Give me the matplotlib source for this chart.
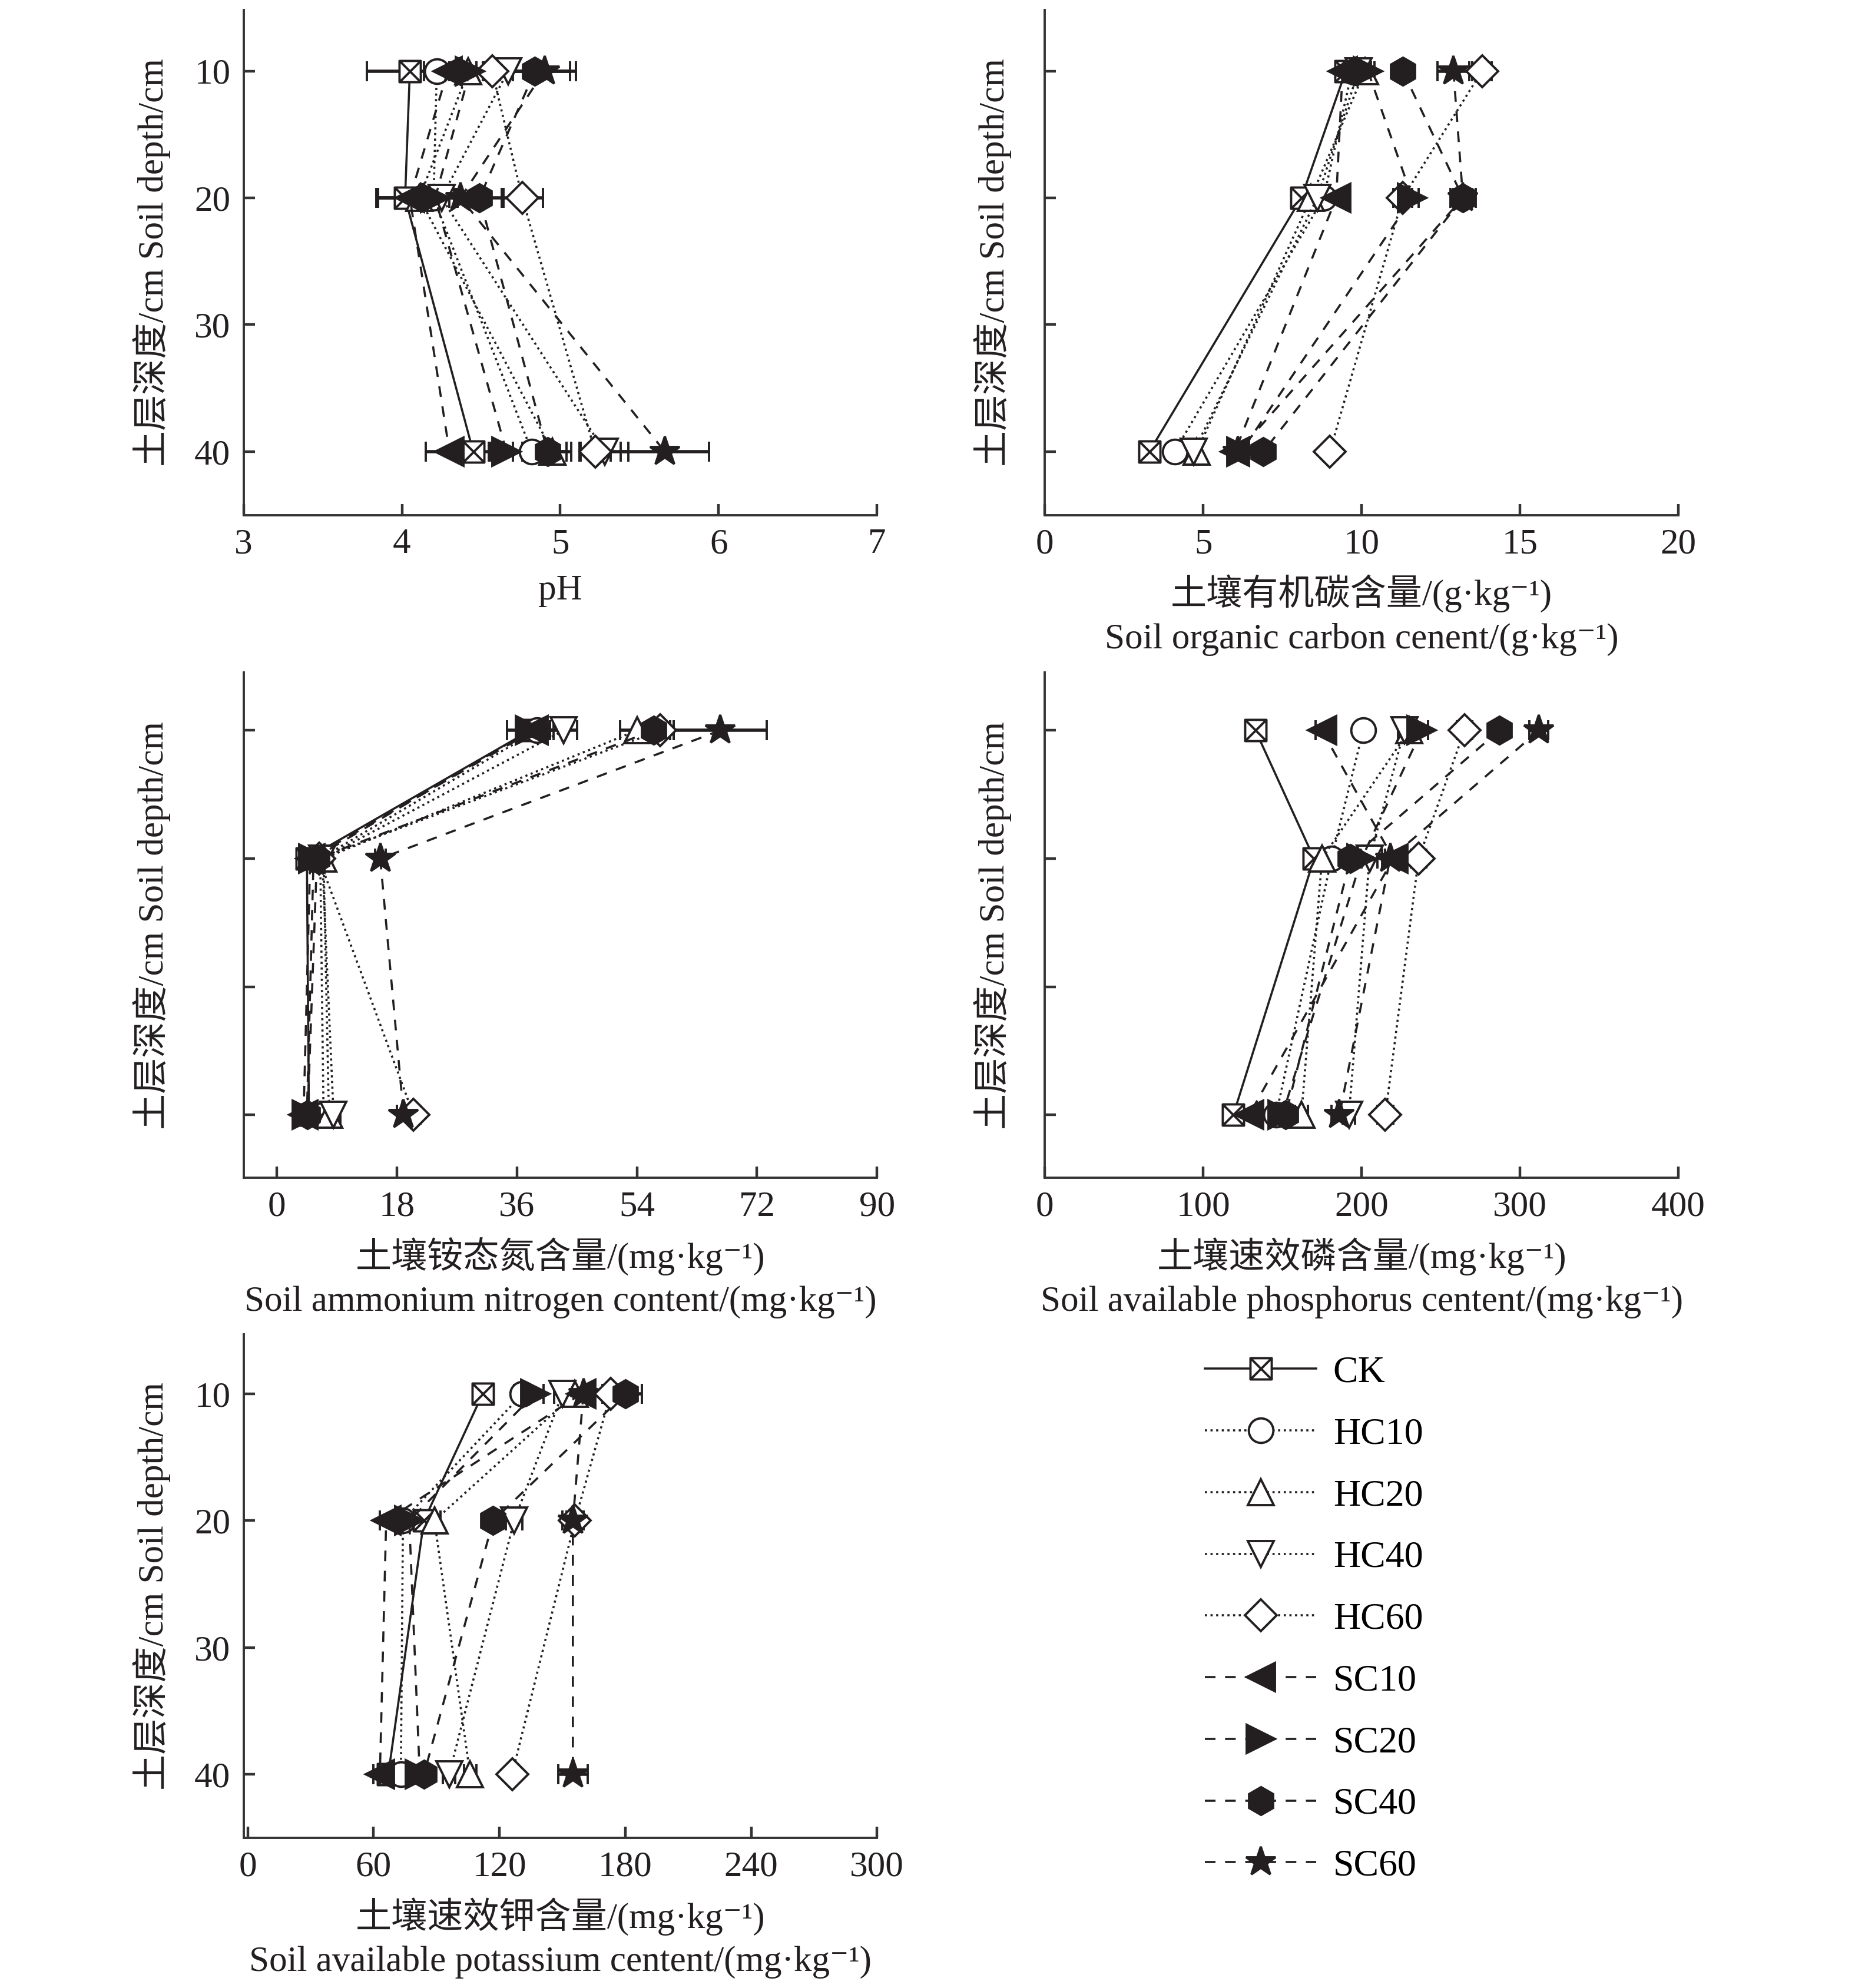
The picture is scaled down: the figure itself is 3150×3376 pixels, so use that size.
import matplotlib
matplotlib.use('Agg')
import matplotlib.pyplot as plt
from matplotlib.path import Path
from matplotlib.lines import Line2D

plt.rcParams['font.family'] = ['Liberation Serif', 'Noto Sans CJK SC', 'DejaVu Serif']

# ---------------- data ----------------
depths = [10, 20, 40]
treatments = ['CK', 'HC10', 'HC20', 'HC40', 'HC60', 'SC10', 'SC20', 'SC40', 'SC60']

# rows follow `treatments`, columns follow `depths`
ph_values = [[4.05, 4.02, 4.45], [4.22, 4.20, 4.82], [4.42, 4.11, 4.95],
             [4.67, 4.25, 5.28], [4.57, 4.76, 5.22], [4.29, 4.05, 4.30],
             [4.43, 4.21, 4.66], [4.84, 4.49, 4.92], [4.90, 4.37, 5.66]]
ph_errors = [[0.27, 0.18, 0.10], [0.08, 0.10, 0.12], [0.10, 0.12, 0.12],
             [0.12, 0.10, 0.15], [0.10, 0.13, 0.10], [0.08, 0.20, 0.15],
             [0.08, 0.12, 0.10], [0.22, 0.15, 0.12], [0.20, 0.12, 0.28]]

soc_values = [[9.5, 8.1, 3.3], [9.7, 8.8, 4.1], [10.1, 8.4, 4.8],
              [9.9, 8.6, 4.7], [13.8, 11.3, 9.0], [9.4, 9.2, 6.0],
              [10.2, 11.6, 6.2], [11.3, 13.2, 6.9], [12.9, 13.2, 6.1]]
soc_errors = [[0.2, 0.3, 0.2], [0.2, 0.2, 0.1], [0.2, 0.2, 0.1],
              [0.2, 0.2, 0.1], [0.3, 0.3, 0.2], [0.2, 0.2, 0.2],
              [0.2, 0.2, 0.2], [0.2, 0.4, 0.2], [0.5, 0.3, 0.2]]

nh4_values = [[38.0, 4.5, 4.8], [39.0, 6.5, 7.0], [54.0, 7.0, 7.8],
              [43.0, 6.8, 8.5], [57.5, 6.3, 20.5], [38.5, 5.0, 4.0],
              [38.0, 5.5, 4.5], [56.5, 6.0, 4.6], [66.5, 15.5, 19.0]]
nh4_errors = [[2.0, 0.8, 0.6], [2.0, 0.8, 0.8], [2.5, 0.8, 0.8],
              [2.0, 0.8, 1.0], [2.0, 0.8, 1.0], [2.0, 0.6, 0.6],
              [3.5, 0.6, 0.6], [2.5, 0.8, 0.6], [7.0, 0.8, 1.0]]

ap_values = [[133, 170, 119], [201, 181, 146], [230, 175, 162],
             [227, 205, 192], [265, 236, 215], [175, 220, 129],
             [238, 200, 150], [287, 193, 152], [312, 218, 186]]
ap_errors = [[3, 5, 3], [4, 4, 4], [5, 5, 4],
             [4, 5, 4], [5, 5, 5], [4, 5, 4],
             [4, 5, 4], [4, 5, 4], [6, 5, 5]]

ak_values = [[112, 84, 67], [131, 74, 73], [156, 89, 106],
             [150, 127, 96], [173, 156, 126], [159, 66, 63],
             [137, 77, 82], [180, 117, 84], [160, 155, 155]]
ak_errors = [[3, 3, 3], [4, 3, 3], [4, 3, 3],
             [4, 4, 3], [4, 4, 3], [4, 3, 3],
             [4, 3, 3], [8, 3, 3], [4, 5, 7]]

# ---------------- styles ----------------
INK = '#231f20'
box_x = Path([(-1, -1), (1, -1), (1, 1), (-1, 1), (-1, -1),
              (-1, -1), (1, 1), (-1, 1), (1, -1)],
             [Path.MOVETO, Path.LINETO, Path.LINETO, Path.LINETO, Path.CLOSEPOLY,
              Path.MOVETO, Path.LINETO, Path.MOVETO, Path.LINETO])
markers = [box_x, 'o', '^', 'v', 'D', '<', '>', 'h', '*']
msizes = [13, 15, 16, 16, 14, 17, 17, 17, 19]
filled = [False, False, False, False, False, True, True, True, True]
DASH = (0, (5, 4.5))
lstyles = ['-', ':', ':', ':', ':', DASH, DASH, DASH, DASH]

FS = 22
SERIF = ['Liberation Serif', 'Noto Sans CJK SC', 'DejaVu Serif']

fig = plt.figure(figsize=(15.75, 16.88), dpi=200)

W, H = 1470.0, 1575.0
def rect(l, r, t, b):
    return [l / W, 1 - b / H, (r - l) / W, (b - t) / H]

panels = [
    dict(rect=rect(193, 695, 8, 408), vals=ph_values, errs=ph_errors,
         xlim=(3, 7), xticks=[3, 4, 5, 6, 7], ylab=True, ylim=(45, 5.2),
         xlabel='pH', ylx=-0.115),
    dict(rect=rect(828, 1330, 8, 408), vals=soc_values, errs=soc_errors,
         xlim=(0, 20), xticks=[0, 5, 10, 15, 20], ylab=False, ylim=(45, 5.2),
         xlabel='土壤有机碳含量/(g·kg⁻¹)\nSoil organic carbon cenent/(g·kg⁻¹)', ylx=-0.052),
    dict(rect=rect(193, 695, 533, 933), vals=nh4_values, errs=nh4_errors,
         xlim=(-5, 90), xticks=[0, 18, 36, 54, 72, 90], ylab=False, ylim=(44.9, 5.5),
         xlabel='土壤铵态氮含量/(mg·kg⁻¹)\nSoil ammonium nitrogen content/(mg·kg⁻¹)', ylx=-0.115),
    dict(rect=rect(828, 1330, 533, 933), vals=ap_values, errs=ap_errors,
         xlim=(0, 400), xticks=[0, 100, 200, 300, 400], ylab=False, ylim=(44.9, 5.5),
         xlabel='土壤速效磷含量/(mg·kg⁻¹)\nSoil available phosphorus centent/(mg·kg⁻¹)', ylx=-0.052),
    dict(rect=rect(193, 695, 1057, 1456), vals=ak_values, errs=ak_errors,
         xlim=(-2, 300), xticks=[0, 60, 120, 180, 240, 300], ylab=True, ylim=(45, 5.3),
         xlabel='土壤速效钾含量/(mg·kg⁻¹)\nSoil available potassium centent/(mg·kg⁻¹)', ylx=-0.115),
]

for p in panels:
    ax = fig.add_axes(p['rect'])
    for i, t in enumerate(treatments):
        ax.errorbar(p['vals'][i], depths, xerr=p['errs'][i],
                    color=INK, ls=lstyles[i], lw=1.3, marker=markers[i],
                    ms=msizes[i], mec=INK, mew=1.4,
                    mfc=INK if filled[i] else 'white',
                    ecolor=INK, elinewidth=2.0, capsize=6, capthick=2.0, zorder=3)
    ax.set_xlim(*p['xlim'])
    ax.set_xticks(p['xticks'])
    ax.set_ylim(*p['ylim'])
    ax.set_yticks([10, 20, 30, 40])
    if not p['ylab']:
        ax.set_yticklabels([])
    for s in ['top', 'right']:
        ax.spines[s].set_visible(False)
    for s in ['left', 'bottom']:
        ax.spines[s].set_linewidth(1.4)
        ax.spines[s].set_color('#333333')
    ax.tick_params(direction='in', length=7, width=1.6, labelsize=FS,
                   colors='#333333', labelcolor=INK, pad=8)
    for lab in ax.get_xticklabels() + ax.get_yticklabels():
        lab.set_family(SERIF)
    ax.set_ylabel('土层深度/cm Soil depth/cm', fontsize=FS, family=SERIF, color=INK)
    ax.yaxis.set_label_coords(p['ylx'], 0.5)
    ax.set_xlabel(p['xlabel'], fontsize=FS, family=SERIF, color=INK, linespacing=1.4)
    ax.xaxis.set_label_coords(0.5, -0.118)

handles = []
for i, t in enumerate(treatments):
    handles.append(Line2D([], [], color=INK, ls=lstyles[i], lw=1.3, marker=markers[i],
                          ms=msizes[i], mec=INK, mew=1.4,
                          mfc=INK if filled[i] else 'white'))
fig.legend(handles, treatments, loc='upper left',
           bbox_to_anchor=(955 / W, 1 - 1074 / H), frameon=False,
           handlelength=2.95, handletextpad=0.45,
           labelspacing=0.72, borderpad=0, borderaxespad=0,
           prop={'family': SERIF, 'size': 23})

fig.savefig('out.png', dpi=200, facecolor='white')
